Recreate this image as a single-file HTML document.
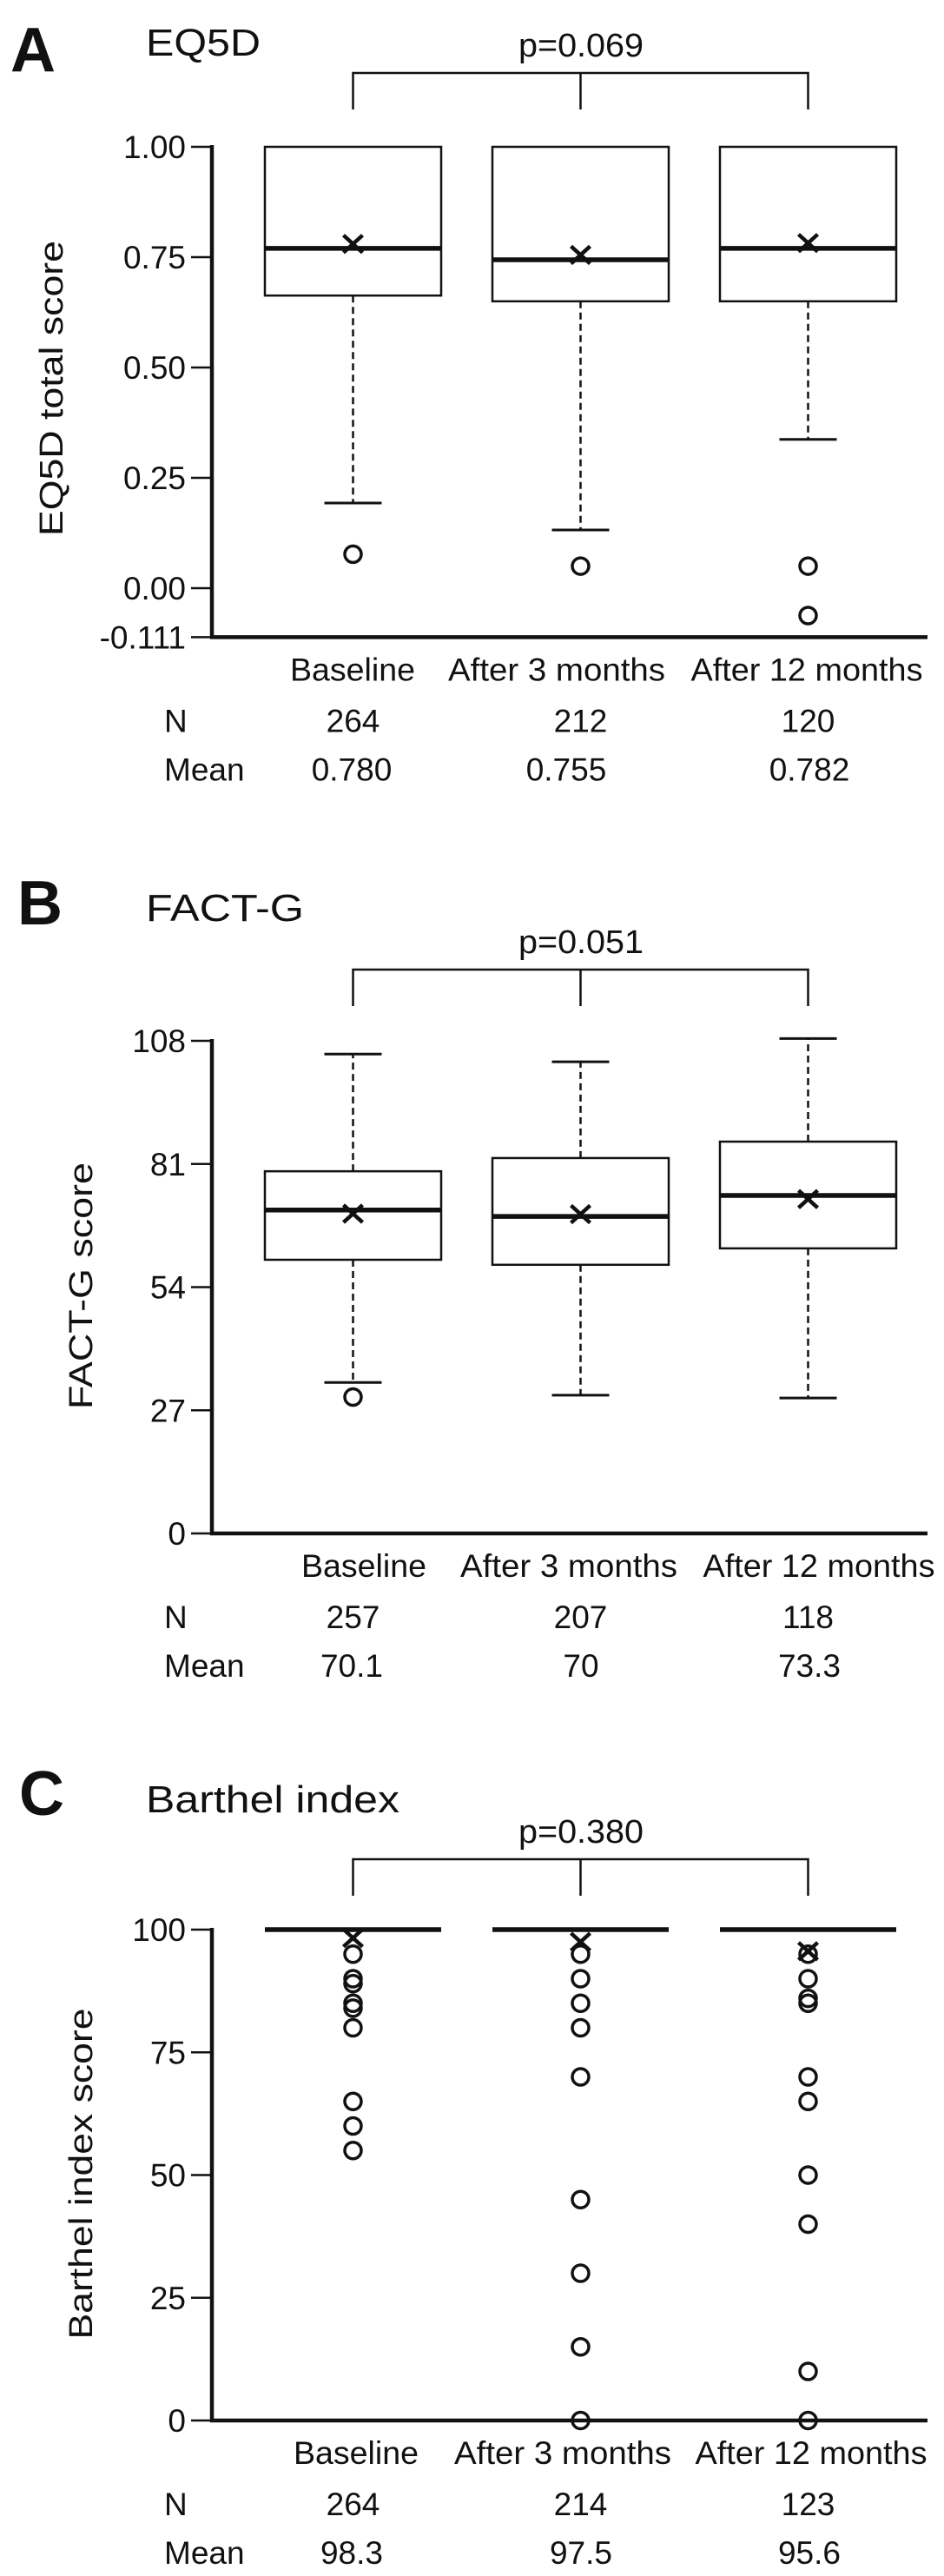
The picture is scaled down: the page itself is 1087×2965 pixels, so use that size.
<!DOCTYPE html>
<html><head><meta charset="utf-8"><style>
html,body{margin:0;padding:0;background:#fff;}
svg{display:block;}
text{font-family:"Liberation Sans",Arial,sans-serif;fill:#111;}
</style></head><body>
<svg id="fig" width="1087" height="2965" viewBox="0 0 1087 2965" xmlns="http://www.w3.org/2000/svg">
<rect width="1087" height="2965" fill="#fff"/>
</svg>
<script>
// Shared categories
const categories = ["Baseline", "After 3 months", "After 12 months"];

// Panel A: EQ5D
const eqTicks = [1.00, 0.75, 0.50, 0.25, 0.00, -0.111];
const eqTickLabels = ["1.00", "0.75", "0.50", "0.25", "0.00", "-0.111"];
const eqQ1 = [0.663, 0.650, 0.650];
const eqQ3 = [1.00, 1.00, 1.00];
const eqMedian = [0.770, 0.744, 0.770];
const eqMean = [0.780, 0.755, 0.782];
const eqWhiskLow = [0.193, 0.132, 0.337];
const eqWhiskHigh = [1.00, 1.00, 1.00];
const eqOutliers = [[0.077], [0.050], [0.050, -0.062]];
const eqN = ["264", "212", "120"];
const eqMeanLabels = ["0.780", "0.755", "0.782"];

// Panel B: FACT-G
const fgTicks = [108, 81, 54, 27, 0];
const fgTickLabels = ["108", "81", "54", "27", "0"];
const fgQ1 = [60.0, 58.9, 62.5];
const fgQ3 = [79.4, 82.3, 85.9];
const fgMedian = [70.9, 69.5, 74.1];
const fgMean = [70.1, 70.0, 73.3];
const fgWhiskLow = [33.1, 30.3, 29.7];
const fgWhiskHigh = [105.1, 103.4, 108.5];
const fgOutliers = [[29.9], [], []];
const fgN = ["257", "207", "118"];
const fgMeanLabels = ["70.1", "70", "73.3"];

// Panel C: Barthel index
const biTicks = [100, 75, 50, 25, 0];
const biTickLabels = ["100", "75", "50", "25", "0"];
const biQ1 = [100, 100, 100];
const biQ3 = [100, 100, 100];
const biMedian = [100, 100, 100];
const biMean = [98.3, 97.5, 95.6];
const biWhiskLow = [100, 100, 100];
const biWhiskHigh = [100, 100, 100];
const biOutliers = [[95, 90, 89, 85, 84, 80, 65, 60, 55], [95, 90, 85, 80, 70, 45, 30, 15, 0], [95, 90, 86, 85, 70, 65, 50, 40, 10, 0]];
const biN = ["264", "214", "123"];
const biMeanLabels = ["98.3", "97.5", "95.6"];

const svg = document.getElementById('fig');
const NS = 'http://www.w3.org/2000/svg';
function mk(tag, attrs, parent) {
  const e = document.createElementNS(NS, tag);
  for (const k in attrs) e.setAttribute(k, attrs[k]);
  (parent || svg).appendChild(e);
  return e;
}
function txt(str, attrs, parent) {
  const e = mk('text', attrs, parent);
  e.textContent = str;
  return e;
}

const boxX = [305, 567, 829];
const boxW = 203;

function panel(p) {
  const g = mk('g', {});
  
  
  const y = v => p.y0 - (v - p.v0) * p.scale;
  const axX = 244;

  const lt = txt(p.letter, {x: p.letterX, y: p.letterY, 'font-size': 72, 'font-weight': 'bold'}, g);
  
  
  const tt = txt(p.title, {x: 168, y: p.titleY, 'font-size': 44, textLength: p.titleLen, lengthAdjust: 'spacingAndGlyphs'}, g);
  
  

  // p-value bracket
  const bg = mk('g', {}, g);
  
  
  const c = boxX.map(x => x + boxW / 2);
  mk('path', {d: `M${c[0]},${p.brY + 42} V${p.brY} H${c[2]} V${p.brY + 42} M${c[1]},${p.brY} V${p.brY + 42}`, fill: 'none', stroke: '#111', 'stroke-width': 2.5}, bg);
  const pt = txt(p.pval, {x: 669, y: p.brY - 19, 'font-size': 38, 'text-anchor': 'middle', textLength: 144, lengthAdjust: 'spacingAndGlyphs'}, bg);
  
  

  // axes
  const ax = mk('g', {}, g);
  
  
  const vmax = p.ticks[0], vmin = p.ticks[p.ticks.length - 1];
  mk('line', {x1: axX, y1: y(vmax) - 2, x2: axX, y2: y(vmin) + 2, stroke: '#111', 'stroke-width': 4.5}, ax);
  p.ticks.forEach((t, i) => {
    mk('line', {x1: 220, y1: y(t), x2: axX, y2: y(t), stroke: '#111', 'stroke-width': 2.5}, ax);
    const tl = txt(p.tickLabels[i], {x: 214, y: y(t) + 13, 'font-size': 37, 'text-anchor': 'end'}, ax);
    
    
  });
  const xa = mk('line', {x1: axX - 2, y1: y(vmin), x2: 1068, y2: y(vmin), stroke: '#111', 'stroke-width': 4.5}, g);
  
  
  const yt = txt(p.ytitle, {x: 0, y: 0, 'font-size': 38, 'text-anchor': 'middle', textLength: p.ytLen, lengthAdjust: 'spacingAndGlyphs', transform: `translate(${p.ytX},${p.ytY}) rotate(-90)`}, g);
  
  

  // boxes
  categories.forEach((cat, i) => {
    const bx = mk('g', {}, g);
    
    
    const cx = boxX[i] + boxW / 2;
    if (p.wl[i] < p.q1[i]) {
      mk('line', {x1: cx, y1: y(p.q1[i]), x2: cx, y2: y(p.wl[i]), stroke: '#111', 'stroke-width': 2.5, 'stroke-dasharray': '8,5'}, bx);
      mk('line', {x1: cx - 33, y1: y(p.wl[i]), x2: cx + 33, y2: y(p.wl[i]), stroke: '#111', 'stroke-width': 3}, bx);
    }
    if (p.wh[i] > p.q3[i]) {
      mk('line', {x1: cx, y1: y(p.q3[i]), x2: cx, y2: y(p.wh[i]), stroke: '#111', 'stroke-width': 2.5, 'stroke-dasharray': '8,5'}, bx);
      mk('line', {x1: cx - 33, y1: y(p.wh[i]), x2: cx + 33, y2: y(p.wh[i]), stroke: '#111', 'stroke-width': 3}, bx);
    }
    if (p.q3[i] > p.q1[i]) {
      mk('rect', {x: boxX[i], y: y(p.q3[i]), width: boxW, height: y(p.q1[i]) - y(p.q3[i]), fill: 'none', stroke: '#111', 'stroke-width': 2.5}, bx);
    }
    mk('line', {x1: boxX[i], y1: y(p.med[i]), x2: boxX[i] + boxW, y2: y(p.med[i]), stroke: '#111', 'stroke-width': 5.5}, bx);
    const my = y(p.mean[i]);
    const mx = mk('path', {d: `M${cx - 11},${my - 10} L${cx + 11},${my + 10} M${cx + 11},${my - 10} L${cx - 11},${my + 10}`, stroke: '#111', 'stroke-width': 4.5, fill: 'none'}, bx);
    
    
    p.out[i].forEach(v => {
      const o = mk('circle', {cx: cx, cy: y(v), r: 9.5, fill: 'none', stroke: '#111', 'stroke-width': 3.5}, bx);
      
      
    });
    const cl = txt(cat, {x: p.catX[i], y: y(vmin) + 50, 'font-size': 37, 'text-anchor': 'middle', textLength: [144, 250, 267][i], lengthAdjust: 'spacingAndGlyphs'}, g);
    
    
    const nl = txt(p.n[i], {x: cx, y: y(vmin) + 109, 'font-size': 37, 'text-anchor': 'middle'}, g);
    
    
    const ml = txt(p.meanLabels[i], {x: p.mlX[i], y: y(vmin) + 165, 'font-size': 37, 'text-anchor': 'middle'}, g);
    
    
  });
  const nh = txt('N', {x: 189, y: y(vmin) + 109, 'font-size': 37}, g);
  
  
  const mh = txt('Mean', {x: 189, y: y(vmin) + 165, 'font-size': 37}, g);
  
  
}

panel({name: 'panel-a-eq5d', letter: 'A', letterX: 12, letterY: 82, title: 'EQ5D', titleY: 64, titleLen: 132,
  pval: 'p=0.069', brY: 84, y0: 677, v0: 0, scale: 508,
  ticks: eqTicks, tickLabels: eqTickLabels, ytitle: 'EQ5D total score', ytX: 72, ytY: 447, ytLen: 340,
  q1: eqQ1, q3: eqQ3, med: eqMedian, mean: eqMean, wl: eqWhiskLow, wh: eqWhiskHigh, out: eqOutliers,
  n: eqN, meanLabels: eqMeanLabels, catX: [406, 641, 929], mlX: [405, 652, 932]});

panel({name: 'panel-b-fact-g', letter: 'B', letterX: 20, letterY: 1064, title: 'FACT-G', titleY: 1060, titleLen: 182,
  pval: 'p=0.051', brY: 1116, y0: 1765, v0: 0, scale: 5.25,
  ticks: fgTicks, tickLabels: fgTickLabels, ytitle: 'FACT-G score', ytX: 106, ytY: 1480, ytLen: 284,
  q1: fgQ1, q3: fgQ3, med: fgMedian, mean: fgMean, wl: fgWhiskLow, wh: fgWhiskHigh, out: fgOutliers,
  n: fgN, meanLabels: fgMeanLabels, catX: [419, 655, 943], mlX: [405, 669, 932]});

panel({name: 'panel-c-barthel', letter: 'C', letterX: 22, letterY: 2089, title: 'Barthel index', titleY: 2086, titleLen: 292,
  pval: 'p=0.380', brY: 2140, y0: 2786, v0: 0, scale: 5.65,
  ticks: biTicks, tickLabels: biTickLabels, ytitle: 'Barthel index score', ytX: 106, ytY: 2502, ytLen: 381,
  q1: biQ1, q3: biQ3, med: biMedian, mean: biMean, wl: biWhiskLow, wh: biWhiskHigh, out: biOutliers,
  n: biN, meanLabels: biMeanLabels, catX: [410, 648, 934], mlX: [405, 669, 932]});
</script>
</body></html>
